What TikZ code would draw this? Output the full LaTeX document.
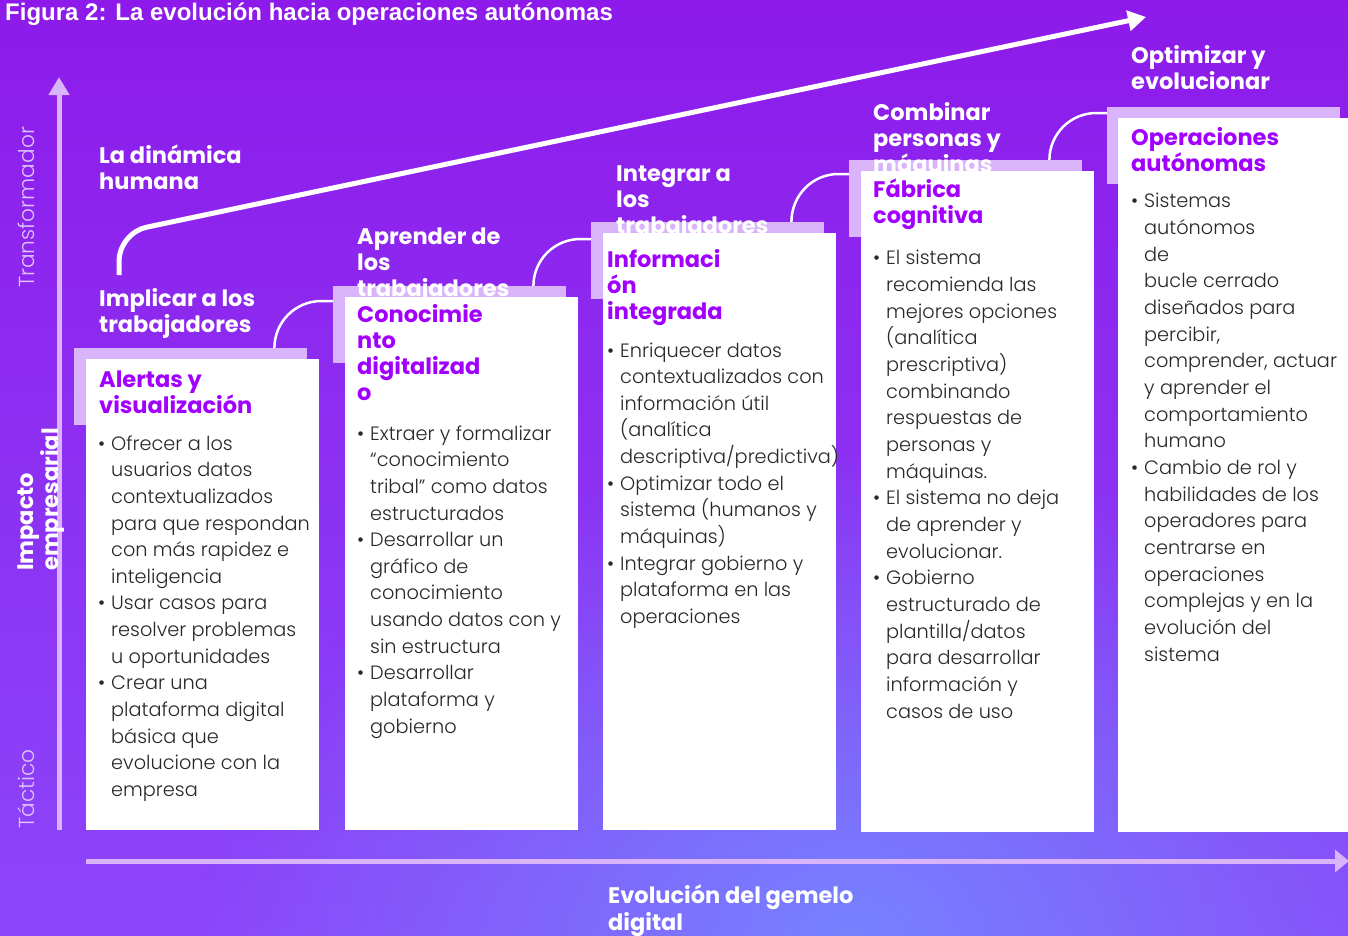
\documentclass[tikz,border=0pt]{standalone}
\usepackage{fontspec}
\setmainfont{Poppins}
\newfontfamily\hfont{Poppins}
\newfontfamily\lfont{Poppins Light}
\newfontfamily\tfont{Liberation Sans}
\usetikzlibrary{arrows.meta,fadings}
\definecolor{bgtop}{RGB}{141,26,234}
\definecolor{bgbot}{RGB}{140,70,250}
\definecolor{glow}{RGB}{118,130,255}
\definecolor{lav}{RGB}{217,180,250}
\definecolor{purp}{RGB}{161,0,255}
\definecolor{bodytxt}{RGB}{40,40,40}
\definecolor{axlbl}{RGB}{222,196,250}
\tikzfading[name=softglow, inner color=transparent!0, outer color=transparent!100]
\newcommand\mybul{\makebox[13pt][l]{•}}
\newcommand\myind{\hspace*{13pt}}
\begin{document}
\begin{tikzpicture}[x=1pt,y=-1pt,
  lavbox/.style={fill=lav, draw=none, minimum width=233pt, minimum height=77pt, inner sep=0pt, anchor=north west},
  card/.style={fill=white, draw=none, minimum width=233pt, inner sep=0pt, anchor=north west},
  whead/.style={text=white, font=\hfont\bfseries\fontsize{22.5}{26.3}\selectfont, align=left, anchor=base west, inner sep=0pt},
  phead/.style={whead, text=purp},
  body/.style={text=bodytxt, font=\lfont\fontsize{19.3}{26.65}\selectfont, align=left, anchor=base west, inner sep=0pt},
  axline/.style={draw=lav, line width=5pt},
  conn/.style={draw=white, line width=2.5pt},
  axtext/.style={text=axlbl, font=\lfont\fontsize{21.7}{21.7}\selectfont, rotate=90, anchor=base west, inner sep=0pt}
]
\useasboundingbox (0,0) rectangle (1348,935);
\clip (0,0) rectangle (1348,935);
% background
\shade[top color=bgtop, bottom color=bgbot] (0,0) rectangle (1348,935);
\fill[glow, path fading=softglow] (200,450) rectangle (1500,1420);
% title
\node[text=white, font=\tfont\bfseries\fontsize{24}{24}\selectfont, anchor=base west, inner sep=0pt] (title) at (5,20) {Figura 2: La evolución hacia operaciones autónomas};
% axes
\coordinate (vaxs) at (59,830);
\coordinate (vaxe) at (59,77);
\coordinate (haxs) at (86,861);
\coordinate (haxe) at (1349,861);
\draw[axline, -{Triangle[length=18pt,width=20pt]}] (vaxs) -- (vaxe);
\draw[axline, -{Triangle[length=14pt,width=22pt]}] (haxs) -- (haxe);
\node[axtext] (transf) at (34,288) {Transformador};
\node[axtext] (tact) at (34,829) {Táctico};
\node[whead, rotate=90, font=\hfont\bfseries\fontsize{22.5}{25}\selectfont] (impacto) at (58,571) {Impacto\\empresarial};
% big arrow
\coordinate (bas) at (119,275);
\coordinate (bac) at (119,233);
\coordinate (bae) at (1146,17);
\draw[white, line width=5pt, rounded corners=28pt, -{Triangle[length=18pt,width=20pt]}] (bas) -- (bac) -- (bae);
% lavender boxes
\node[lavbox] (lav1) at (74,348) {};
\node[lavbox] (lav2) at (333,286) {};
\node[lavbox] (lav3) at (591,222) {};
\node[lavbox] (lav4) at (849,160) {};
\node[lavbox] (lav5) at (1107,107) {};
% connectors
\draw[conn] ([xshift=-33pt]lav1.north east) to[out=90,in=180] ++(47,-47) coordinate (c1) -- (c1 -| lav2.west);
\draw[conn] ([xshift=-33pt]lav2.north east) to[out=90,in=180] ++(47,-47) coordinate (c2) -- (c2 -| lav3.west);
\draw[conn] ([xshift=-33pt]lav3.north east) to[out=90,in=180] ++(47,-48) coordinate (c3) -- (c3 -| lav4.west);
\draw[conn] ([xshift=-33pt]lav4.north east) to[out=90,in=180] ++(47,-47) coordinate (c4) -- (c4 -| lav5.west);
% white headings (anchor = baseline of last line)
\node[whead] (h0) at (99,189.3) {La dinámica\\humana};
\node[whead] (h1) at (99,332.3) {Implicar a los\\trabajadores};
\node[whead] (h2) at (357,296.6) {Aprender de\\los\\trabajadores};
\node[whead] (h3) at (616,233.6) {Integrar a\\los\\trabajadores};
\node[whead] (h4) at (873,172.6) {Combinar\\personas y\\máquinas};
\node[whead] (h5) at (1131,89.5) {Optimizar y\\evolucionar};
\node[whead, font=\hfont\bfseries\fontsize{22.5}{27}\selectfont] (xlab) at (608,930) {Evolución del gemelo\\digital};
% cards
\node[card, minimum height=471pt] (card1) at (86,359) {};
\node[card, minimum height=533pt] (card2) at (345,297) {};
\node[card, minimum height=597pt] (card3) at (603,233) {};
\node[card, minimum height=661pt] (card4) at (861,171) {};
\node[card, minimum height=714pt] (card5) at (1118,118) {};
% card headings
\node[phead] (p1) at (99,413.3) {Alertas y\\visualización};
\node[phead] (p2) at (357,400.9) {Conocimie\\nto\\digitalizad\\o};
\node[phead] (p3) at (607,319.6) {Informaci\\ón\\integrada};
\node[phead] (p4) at (873,223.3) {Fábrica\\cognitiva};
\node[phead] (p5) at (1131,171.3) {Operaciones\\autónomas};
% card bodies
\node[body] (b1) at (98,796.5) {\mybul Ofrecer a los\\
\myind usuarios datos\\
\myind contextualizados\\
\myind para que respondan\\
\myind con más rapidez e\\
\myind inteligencia\\
\mybul Usar casos para\\
\myind resolver problemas\\
\myind u oportunidades\\
\mybul Crear una\\
\myind plataforma digital\\
\myind básica que\\
\myind evolucione con la\\
\myind empresa};
\node[body] (b2) at (357,733.2) {\mybul Extraer y formalizar\\
\myind “conocimiento\\
\myind tribal” como datos\\
\myind estructurados\\
\mybul Desarrollar un\\
\myind gráfico de\\
\myind conocimiento\\
\myind usando datos con y\\
\myind sin estructura\\
\mybul Desarrollar\\
\myind plataforma y\\
\myind gobierno};
\node[body] (b3) at (607,623.5) {\mybul Enriquecer datos\\
\myind contextualizados con\\
\myind información útil\\
\myind (analítica\\
\myind descriptiva/predictiva)\\
\mybul Optimizar todo el\\
\myind sistema (humanos y\\
\myind máquinas)\\
\mybul Integrar gobierno y\\
\myind plataforma en las\\
\myind operaciones};
\node[body] (b4) at (873,718) {\mybul El sistema\\
\myind recomienda las\\
\myind mejores opciones\\
\myind (analítica\\
\myind prescriptiva)\\
\myind combinando\\
\myind respuestas de\\
\myind personas y\\
\myind máquinas.\\
\mybul El sistema no deja\\
\myind de aprender y\\
\myind evolucionar.\\
\mybul Gobierno\\
\myind estructurado de\\
\myind plantilla/datos\\
\myind para desarrollar\\
\myind información y\\
\myind casos de uso};
\node[body] (b5) at (1131,661) {\mybul Sistemas\\
\myind autónomos\\
\myind de\\
\myind bucle cerrado\\
\myind diseñados para\\
\myind percibir,\\
\myind comprender, actuar\\
\myind y aprender el\\
\myind comportamiento\\
\myind humano\\
\mybul Cambio de rol y\\
\myind habilidades de los\\
\myind operadores para\\
\myind centrarse en\\
\myind operaciones\\
\myind complejas y en la\\
\myind evolución del\\
\myind sistema};
\end{tikzpicture}
\end{document}
